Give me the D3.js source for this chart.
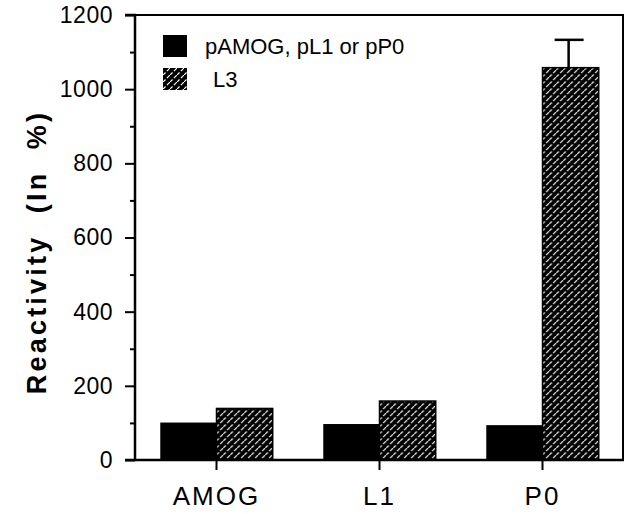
<!DOCTYPE html>
<html>
<head>
<meta charset="utf-8">
<script src="https://cdn.jsdelivr.net/npm/d3@7"></script>
<style>
    body { margin: 0; background: #fff; }
    svg { display: block; font-family: 'Liberation Sans', Arial, sans-serif; }
</style>
</head>
<body>
<svg id="chart" width="627" height="514"></svg>
<script>
// data
const categories = ['AMOG', 'L1', 'P0'];
const pValues    = [101, 97, 94];
const l3Values   = [139, 159, 1058];
const l3Errors   = [0, 0, 75];
const seriesNames = ['pAMOG, pL1 or pP0', 'L3'];
const majorTicks = [0, 200, 400, 600, 800, 1000, 1200];
const minorTicks = [100, 300, 500, 700, 900, 1100];

// plot box
const box = { l: 135, r: 624, t: 15, b: 460 };

const svg = d3.select('#chart');

// hatch for L3
const defs = svg.append('defs');
const pat = defs.append('pattern')
    .attr('id', 'hatch')
    .attr('patternUnits', 'userSpaceOnUse')
    .attr('width', 7)
    .attr('height', 7);
pat.append('rect').attr('width', 7).attr('height', 7).attr('fill', '#000');
pat.append('path')
    .attr('d', 'M-1,8 L8,-1')
    .attr('stroke', '#fff')
    .attr('stroke-width', 1.2)
    .attr('stroke-dasharray', '5,2');

const x0 = d3.scaleBand()
    .domain(categories)
    .range([box.l, box.r])
    .paddingInner(0.31)
    .paddingOuter(0.155);

const x1 = d3.scaleBand()
    .domain([0, 1])
    .range([0, x0.bandwidth()]);

const y = d3.scaleLinear().domain([0, 1200]).range([box.b, box.t]);

// bars
const groups = svg.append('g')
    .selectAll('g')
    .data(categories)
    .join('g')
    .attr('transform', d => `translate(${x0(d)},0)`);

groups.append('rect')
    .attr('x', x1(0))
    .attr('width', x1.bandwidth())
    .attr('y', (d, i) => y(pValues[i]))
    .attr('height', (d, i) => y(0) - y(pValues[i]))
    .attr('fill', '#000');

groups.append('rect')
    .attr('x', x1(1))
    .attr('width', x1.bandwidth())
    .attr('y', (d, i) => y(l3Values[i]))
    .attr('height', (d, i) => y(0) - y(l3Values[i]))
    .attr('fill', 'url(#hatch)')
    .attr('stroke', '#000')
    .attr('stroke-width', 1.5);

// error bars
const errs = groups.filter((d, i) => l3Errors[i] > 0);
errs.each(function(d) {
    const i = categories.indexOf(d);
    const cx = x1(1) + x1.bandwidth() / 2 - 2;
    const g = d3.select(this);
    g.append('line')
        .attr('x1', cx).attr('x2', cx)
        .attr('y1', y(l3Values[i])).attr('y2', y(l3Values[i] + l3Errors[i]))
        .attr('stroke', '#000').attr('stroke-width', 2.5);
    g.append('line')
        .attr('x1', cx - 14).attr('x2', cx + 15)
        .attr('y1', y(l3Values[i] + l3Errors[i])).attr('y2', y(l3Values[i] + l3Errors[i]))
        .attr('stroke', '#000').attr('stroke-width', 2.5);
});

// frame top and right
svg.append('path')
    .attr('d', `M${box.l},${box.t} H${box.r - 1} V${box.b}`)
    .attr('fill', 'none')
    .attr('stroke', '#000')
    .attr('stroke-width', 2);

// axes
const yAxis = d3.axisLeft(y).tickValues(majorTicks).tickSize(10).tickPadding(12).tickFormat(d3.format('d'));
const yMinor = d3.axisLeft(y).tickValues(minorTicks).tickSize(5).tickFormat('');
const xAxis = d3.axisBottom(x0).tickSize(10).tickPadding(17);

svg.append('g')
    .attr('transform', `translate(${box.l},0)`)
    .call(yMinor)
    .call(g => g.select('.domain').remove())
    .call(g => g.selectAll('line').attr('stroke-width', 2));

svg.append('g')
    .attr('class', 'y axis')
    .attr('transform', `translate(${box.l},0)`)
    .call(yAxis)
    .call(g => g.select('.domain').attr('stroke-width', 2.5).attr('d', `M-10,${box.t}H0V${box.b}`))
    .call(g => g.selectAll('line').attr('stroke-width', 2))
    .call(g => g.selectAll('text')
        .attr('font-size', 23)
        .attr('letter-spacing', 0.5)
        .attr('fill', '#000'));

svg.append('g')
    .attr('class', 'x axis')
    .attr('transform', `translate(0,${box.b})`)
    .call(xAxis)
    .call(g => g.select('.domain').attr('stroke-width', 2.5).attr('d', `M${box.l - 10},0H${box.r}`))
    .call(g => g.selectAll('.tick line').attr('stroke-width', 2))
    .call(g => g.selectAll('text')
        .attr('font-size', 26)
        .attr('letter-spacing', 2)
        .attr('fill', '#000'));

// y title
svg.append('text')
    .attr('transform', 'translate(46,252) rotate(-90)')
    .attr('text-anchor', 'middle')
    .attr('font-size', 27)
    .attr('font-weight', 'bold')
    .attr('letter-spacing', 3.2)
    .style('white-space', 'pre')
    .text('Reactivity  (In  %)');

// legend
const legend = svg.append('g')
    .selectAll('g')
    .data(seriesNames)
    .join('g')
    .attr('transform', (d, i) => `translate(163,${35 + i * 33})`);

legend.append('rect')
    .attr('width', 24)
    .attr('height', 22)
    .attr('fill', (d, i) => i === 0 ? '#000' : 'url(#hatch)');

legend.append('text')
    .attr('x', (d, i) => i === 0 ? 42 : 50)
    .attr('y', 19)
    .attr('font-size', 22)
    .text(d => d);
</script>
</body>
</html>
